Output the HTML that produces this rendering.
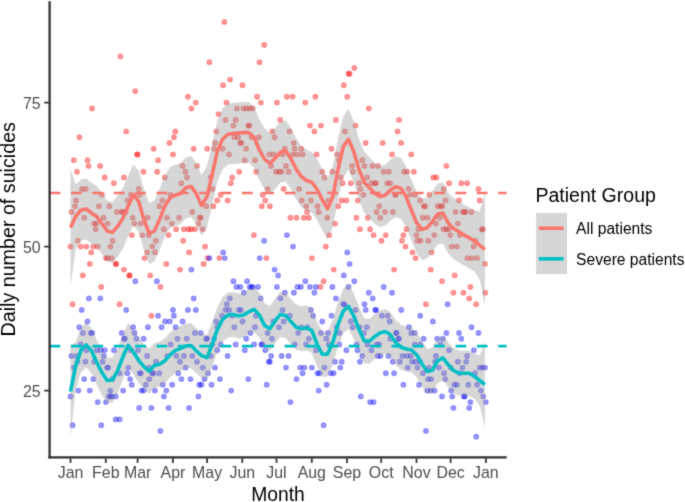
<!DOCTYPE html>
<html><head><meta charset="utf-8"><title>Daily number of suicides</title><style>html,body{margin:0;padding:0;background:#fff}
svg{display:block}
text{font-family:"Liberation Sans",sans-serif}
.tk{font-size:15.9px;fill:#4d4d4d}
.ti{font-size:19.3px;fill:#000}
.lg{font-size:15.6px;fill:#000}
.pr circle{fill:rgba(255,0,0,.35);stroke:rgba(255,0,0,.35);stroke-width:1.5}
.pb circle{fill:rgba(0,0,255,.35);stroke:rgba(0,0,255,.35);stroke-width:1.5}
</style></head><body><svg width="685" height="502" viewBox="0 0 685 502">
<defs><filter id="bl" color-interpolation-filters="sRGB" x="0" y="0" width="685" height="502" filterUnits="userSpaceOnUse"><feConvolveMatrix order="3" kernelMatrix="2 9 2 9 56 9 2 9 2" edgeMode="duplicate" preserveAlpha="true"/></filter></defs>
<g filter="url(#bl)">
<rect width="685" height="502" fill="#fff"/>
<g class="pr"><circle cx="120.4" cy="56.5" r="2.2"/><circle cx="135.3" cy="91.1" r="2.2"/><circle cx="92.1" cy="108.4" r="2.2"/><circle cx="126.2" cy="131.4" r="2.2"/><circle cx="79.4" cy="137.2" r="2.2"/><circle cx="175.3" cy="131.4" r="2.2"/><circle cx="174.0" cy="137.2" r="2.2"/><circle cx="169.5" cy="142.9" r="2.2"/><circle cx="153.7" cy="148.7" r="2.2"/><circle cx="137.1" cy="154.4" r="2.2"/><circle cx="137.6" cy="154.4" r="2.2"/><circle cx="173.0" cy="154.4" r="2.2"/><circle cx="73.8" cy="160.2" r="2.2"/><circle cx="87.5" cy="160.2" r="2.2"/><circle cx="158.1" cy="160.2" r="2.2"/><circle cx="88.6" cy="166.0" r="2.2"/><circle cx="100.1" cy="166.0" r="2.2"/><circle cx="77.0" cy="171.7" r="2.2"/><circle cx="143.4" cy="171.7" r="2.2"/><circle cx="157.2" cy="171.7" r="2.2"/><circle cx="104.7" cy="177.5" r="2.2"/><circle cx="123.9" cy="177.5" r="2.2"/><circle cx="164.8" cy="177.5" r="2.2"/><circle cx="113.8" cy="183.2" r="2.2"/><circle cx="81.9" cy="189.0" r="2.2"/><circle cx="85.8" cy="189.0" r="2.2"/><circle cx="138.8" cy="189.0" r="2.2"/><circle cx="102.0" cy="194.8" r="2.2"/><circle cx="130.9" cy="194.8" r="2.2"/><circle cx="139.7" cy="194.8" r="2.2"/><circle cx="170.4" cy="194.8" r="2.2"/><circle cx="76.1" cy="200.5" r="2.2"/><circle cx="127.4" cy="200.5" r="2.2"/><circle cx="162.5" cy="200.5" r="2.2"/><circle cx="74.9" cy="206.3" r="2.2"/><circle cx="98.9" cy="206.3" r="2.2"/><circle cx="109.4" cy="206.3" r="2.2"/><circle cx="159.5" cy="206.3" r="2.2"/><circle cx="71.6" cy="212.0" r="2.2"/><circle cx="116.9" cy="212.0" r="2.2"/><circle cx="121.7" cy="212.0" r="2.2"/><circle cx="122.7" cy="212.0" r="2.2"/><circle cx="125.7" cy="212.0" r="2.2"/><circle cx="84.2" cy="217.8" r="2.2"/><circle cx="103.4" cy="217.8" r="2.2"/><circle cx="132.7" cy="217.8" r="2.2"/><circle cx="147.6" cy="217.8" r="2.2"/><circle cx="166.9" cy="217.8" r="2.2"/><circle cx="179.1" cy="217.8" r="2.2"/><circle cx="94.2" cy="223.6" r="2.2"/><circle cx="96.3" cy="223.6" r="2.2"/><circle cx="107.6" cy="223.6" r="2.2"/><circle cx="134.5" cy="223.6" r="2.2"/><circle cx="140.9" cy="223.6" r="2.2"/><circle cx="171.8" cy="223.6" r="2.2"/><circle cx="95.6" cy="229.3" r="2.2"/><circle cx="163.9" cy="229.3" r="2.2"/><circle cx="176.1" cy="229.3" r="2.2"/><circle cx="131.8" cy="235.1" r="2.2"/><circle cx="142.3" cy="235.1" r="2.2"/><circle cx="148.8" cy="235.1" r="2.2"/><circle cx="168.6" cy="235.1" r="2.2"/><circle cx="77.9" cy="240.8" r="2.2"/><circle cx="112.6" cy="240.8" r="2.2"/><circle cx="155.8" cy="240.8" r="2.2"/><circle cx="70.5" cy="246.6" r="2.2"/><circle cx="80.7" cy="246.6" r="2.2"/><circle cx="86.3" cy="246.6" r="2.2"/><circle cx="93.3" cy="246.6" r="2.2"/><circle cx="97.7" cy="246.6" r="2.2"/><circle cx="110.5" cy="246.6" r="2.2"/><circle cx="152.3" cy="246.6" r="2.2"/><circle cx="91.2" cy="252.4" r="2.2"/><circle cx="147.1" cy="252.4" r="2.2"/><circle cx="155.1" cy="252.4" r="2.2"/><circle cx="105.9" cy="258.1" r="2.2"/><circle cx="107.6" cy="258.1" r="2.2"/><circle cx="111.7" cy="258.1" r="2.2"/><circle cx="144.6" cy="258.1" r="2.2"/><circle cx="89.8" cy="263.9" r="2.2"/><circle cx="115.7" cy="263.9" r="2.2"/><circle cx="116.2" cy="263.9" r="2.2"/><circle cx="166.3" cy="263.9" r="2.2"/><circle cx="123.9" cy="269.6" r="2.2"/><circle cx="82.8" cy="275.4" r="2.2"/><circle cx="129.2" cy="275.4" r="2.2"/><circle cx="129.7" cy="275.4" r="2.2"/><circle cx="150.2" cy="275.4" r="2.2"/><circle cx="101.2" cy="286.9" r="2.2"/><circle cx="160.4" cy="286.9" r="2.2"/><circle cx="72.6" cy="304.2" r="2.2"/><circle cx="119.6" cy="304.2" r="2.2"/><circle cx="151.4" cy="315.7" r="2.2"/><circle cx="224.3" cy="22.0" r="2.2"/><circle cx="264.3" cy="45.0" r="2.2"/><circle cx="209.4" cy="62.3" r="2.2"/><circle cx="259.5" cy="62.3" r="2.2"/><circle cx="230.1" cy="79.6" r="2.2"/><circle cx="223.1" cy="85.3" r="2.2"/><circle cx="242.5" cy="85.3" r="2.2"/><circle cx="187.9" cy="96.8" r="2.2"/><circle cx="257.1" cy="96.8" r="2.2"/><circle cx="286.9" cy="96.8" r="2.2"/><circle cx="292.6" cy="96.8" r="2.2"/><circle cx="195.8" cy="102.6" r="2.2"/><circle cx="226.4" cy="102.6" r="2.2"/><circle cx="260.9" cy="102.6" r="2.2"/><circle cx="276.9" cy="102.6" r="2.2"/><circle cx="191.4" cy="108.4" r="2.2"/><circle cx="236.9" cy="108.4" r="2.2"/><circle cx="243.4" cy="108.4" r="2.2"/><circle cx="246.6" cy="108.4" r="2.2"/><circle cx="249.7" cy="108.4" r="2.2"/><circle cx="252.7" cy="108.4" r="2.2"/><circle cx="218.5" cy="114.1" r="2.2"/><circle cx="225.5" cy="119.9" r="2.2"/><circle cx="235.7" cy="119.9" r="2.2"/><circle cx="280.2" cy="119.9" r="2.2"/><circle cx="233.4" cy="125.6" r="2.2"/><circle cx="248.3" cy="125.6" r="2.2"/><circle cx="249.4" cy="125.6" r="2.2"/><circle cx="216.3" cy="131.4" r="2.2"/><circle cx="272.3" cy="131.4" r="2.2"/><circle cx="289.5" cy="131.4" r="2.2"/><circle cx="234.3" cy="137.2" r="2.2"/><circle cx="238.2" cy="137.2" r="2.2"/><circle cx="251.5" cy="137.2" r="2.2"/><circle cx="258.8" cy="137.2" r="2.2"/><circle cx="274.6" cy="137.2" r="2.2"/><circle cx="215.0" cy="142.9" r="2.2"/><circle cx="240.3" cy="142.9" r="2.2"/><circle cx="241.3" cy="142.9" r="2.2"/><circle cx="293.9" cy="142.9" r="2.2"/><circle cx="193.7" cy="148.7" r="2.2"/><circle cx="207.2" cy="148.7" r="2.2"/><circle cx="214.2" cy="148.7" r="2.2"/><circle cx="222.6" cy="148.7" r="2.2"/><circle cx="246.2" cy="148.7" r="2.2"/><circle cx="284.8" cy="148.7" r="2.2"/><circle cx="294.7" cy="148.7" r="2.2"/><circle cx="229.1" cy="154.4" r="2.2"/><circle cx="269.3" cy="154.4" r="2.2"/><circle cx="273.7" cy="154.4" r="2.2"/><circle cx="282.5" cy="154.4" r="2.2"/><circle cx="244.8" cy="160.2" r="2.2"/><circle cx="255.0" cy="160.2" r="2.2"/><circle cx="182.6" cy="166.0" r="2.2"/><circle cx="197.0" cy="166.0" r="2.2"/><circle cx="271.1" cy="166.0" r="2.2"/><circle cx="286.0" cy="166.0" r="2.2"/><circle cx="185.3" cy="171.7" r="2.2"/><circle cx="239.2" cy="171.7" r="2.2"/><circle cx="256.2" cy="171.7" r="2.2"/><circle cx="276.0" cy="171.7" r="2.2"/><circle cx="279.0" cy="171.7" r="2.2"/><circle cx="281.6" cy="171.7" r="2.2"/><circle cx="288.6" cy="171.7" r="2.2"/><circle cx="187.0" cy="177.5" r="2.2"/><circle cx="210.7" cy="177.5" r="2.2"/><circle cx="232.2" cy="177.5" r="2.2"/><circle cx="181.4" cy="183.2" r="2.2"/><circle cx="230.8" cy="183.2" r="2.2"/><circle cx="212.4" cy="189.0" r="2.2"/><circle cx="267.6" cy="189.0" r="2.2"/><circle cx="283.7" cy="189.0" r="2.2"/><circle cx="299.1" cy="189.0" r="2.2"/><circle cx="220.6" cy="194.8" r="2.2"/><circle cx="262.7" cy="194.8" r="2.2"/><circle cx="217.3" cy="200.5" r="2.2"/><circle cx="227.6" cy="200.5" r="2.2"/><circle cx="265.3" cy="200.5" r="2.2"/><circle cx="206.3" cy="206.3" r="2.2"/><circle cx="213.3" cy="206.3" r="2.2"/><circle cx="261.8" cy="206.3" r="2.2"/><circle cx="269.9" cy="206.3" r="2.2"/><circle cx="192.3" cy="212.0" r="2.2"/><circle cx="199.6" cy="217.8" r="2.2"/><circle cx="200.7" cy="217.8" r="2.2"/><circle cx="290.4" cy="217.8" r="2.2"/><circle cx="296.5" cy="217.8" r="2.2"/><circle cx="198.4" cy="223.6" r="2.2"/><circle cx="183.9" cy="229.3" r="2.2"/><circle cx="188.4" cy="229.3" r="2.2"/><circle cx="190.9" cy="229.3" r="2.2"/><circle cx="194.9" cy="229.3" r="2.2"/><circle cx="202.8" cy="229.3" r="2.2"/><circle cx="253.9" cy="235.1" r="2.2"/><circle cx="183.2" cy="240.8" r="2.2"/><circle cx="205.1" cy="246.6" r="2.2"/><circle cx="189.1" cy="252.4" r="2.2"/><circle cx="207.7" cy="258.1" r="2.2"/><circle cx="219.4" cy="258.1" r="2.2"/><circle cx="266.4" cy="258.1" r="2.2"/><circle cx="203.6" cy="263.9" r="2.2"/><circle cx="180.0" cy="269.6" r="2.2"/><circle cx="354.3" cy="68.0" r="2.2"/><circle cx="348.5" cy="73.8" r="2.2"/><circle cx="349.6" cy="73.8" r="2.2"/><circle cx="343.8" cy="85.3" r="2.2"/><circle cx="315.4" cy="96.8" r="2.2"/><circle cx="347.3" cy="96.8" r="2.2"/><circle cx="305.3" cy="102.6" r="2.2"/><circle cx="368.8" cy="108.4" r="2.2"/><circle cx="335.9" cy="119.9" r="2.2"/><circle cx="399.0" cy="119.9" r="2.2"/><circle cx="310.0" cy="125.6" r="2.2"/><circle cx="321.0" cy="125.6" r="2.2"/><circle cx="355.5" cy="125.6" r="2.2"/><circle cx="314.4" cy="131.4" r="2.2"/><circle cx="345.0" cy="131.4" r="2.2"/><circle cx="397.6" cy="131.4" r="2.2"/><circle cx="365.7" cy="142.9" r="2.2"/><circle cx="382.7" cy="142.9" r="2.2"/><circle cx="401.1" cy="142.9" r="2.2"/><circle cx="331.5" cy="148.7" r="2.2"/><circle cx="301.4" cy="148.7" r="2.2"/><circle cx="302.6" cy="154.4" r="2.2"/><circle cx="316.6" cy="154.4" r="2.2"/><circle cx="337.1" cy="154.4" r="2.2"/><circle cx="392.0" cy="154.4" r="2.2"/><circle cx="411.2" cy="154.4" r="2.2"/><circle cx="362.2" cy="160.2" r="2.2"/><circle cx="338.9" cy="160.2" r="2.2"/><circle cx="352.0" cy="166.0" r="2.2"/><circle cx="364.5" cy="166.0" r="2.2"/><circle cx="372.4" cy="166.0" r="2.2"/><circle cx="378.0" cy="166.0" r="2.2"/><circle cx="322.2" cy="171.7" r="2.2"/><circle cx="332.4" cy="171.7" r="2.2"/><circle cx="352.9" cy="171.7" r="2.2"/><circle cx="383.7" cy="171.7" r="2.2"/><circle cx="388.8" cy="171.7" r="2.2"/><circle cx="404.2" cy="171.7" r="2.2"/><circle cx="407.2" cy="171.7" r="2.2"/><circle cx="413.9" cy="171.7" r="2.2"/><circle cx="324.5" cy="177.5" r="2.2"/><circle cx="340.8" cy="177.5" r="2.2"/><circle cx="367.1" cy="177.5" r="2.2"/><circle cx="342.6" cy="183.2" r="2.2"/><circle cx="350.8" cy="183.2" r="2.2"/><circle cx="359.0" cy="183.2" r="2.2"/><circle cx="371.5" cy="183.2" r="2.2"/><circle cx="374.8" cy="183.2" r="2.2"/><circle cx="375.9" cy="183.2" r="2.2"/><circle cx="387.1" cy="183.2" r="2.2"/><circle cx="390.2" cy="183.2" r="2.2"/><circle cx="360.4" cy="189.0" r="2.2"/><circle cx="408.6" cy="189.0" r="2.2"/><circle cx="363.4" cy="194.8" r="2.2"/><circle cx="395.5" cy="194.8" r="2.2"/><circle cx="410.0" cy="194.8" r="2.2"/><circle cx="414.7" cy="194.8" r="2.2"/><circle cx="301.8" cy="200.5" r="2.2"/><circle cx="310.9" cy="200.5" r="2.2"/><circle cx="328.4" cy="200.5" r="2.2"/><circle cx="341.5" cy="200.5" r="2.2"/><circle cx="346.4" cy="200.5" r="2.2"/><circle cx="357.8" cy="200.5" r="2.2"/><circle cx="420.2" cy="200.5" r="2.2"/><circle cx="306.1" cy="206.3" r="2.2"/><circle cx="317.5" cy="206.3" r="2.2"/><circle cx="338.2" cy="206.3" r="2.2"/><circle cx="379.2" cy="206.3" r="2.2"/><circle cx="307.0" cy="212.0" r="2.2"/><circle cx="318.7" cy="212.0" r="2.2"/><circle cx="376.6" cy="212.0" r="2.2"/><circle cx="385.0" cy="212.0" r="2.2"/><circle cx="392.8" cy="212.0" r="2.2"/><circle cx="303.9" cy="217.8" r="2.2"/><circle cx="308.8" cy="217.8" r="2.2"/><circle cx="327.2" cy="217.8" r="2.2"/><circle cx="356.4" cy="217.8" r="2.2"/><circle cx="367.8" cy="217.8" r="2.2"/><circle cx="380.2" cy="217.8" r="2.2"/><circle cx="335.0" cy="223.6" r="2.2"/><circle cx="359.9" cy="229.3" r="2.2"/><circle cx="370.1" cy="229.3" r="2.2"/><circle cx="406.5" cy="229.3" r="2.2"/><circle cx="329.3" cy="235.1" r="2.2"/><circle cx="373.6" cy="235.1" r="2.2"/><circle cx="385.8" cy="235.1" r="2.2"/><circle cx="403.4" cy="235.1" r="2.2"/><circle cx="416.5" cy="235.1" r="2.2"/><circle cx="381.5" cy="240.8" r="2.2"/><circle cx="402.0" cy="240.8" r="2.2"/><circle cx="417.4" cy="240.8" r="2.2"/><circle cx="325.8" cy="246.6" r="2.2"/><circle cx="405.5" cy="246.6" r="2.2"/><circle cx="412.5" cy="252.4" r="2.2"/><circle cx="311.9" cy="258.1" r="2.2"/><circle cx="415.6" cy="258.1" r="2.2"/><circle cx="333.8" cy="269.6" r="2.2"/><circle cx="394.1" cy="269.6" r="2.2"/><circle cx="323.6" cy="281.2" r="2.2"/><circle cx="320.5" cy="286.9" r="2.2"/><circle cx="446.4" cy="166.0" r="2.2"/><circle cx="433.3" cy="177.5" r="2.2"/><circle cx="436.4" cy="177.5" r="2.2"/><circle cx="449.1" cy="183.2" r="2.2"/><circle cx="461.3" cy="183.2" r="2.2"/><circle cx="467.1" cy="183.2" r="2.2"/><circle cx="443.8" cy="189.0" r="2.2"/><circle cx="478.5" cy="189.0" r="2.2"/><circle cx="429.4" cy="194.8" r="2.2"/><circle cx="445.5" cy="200.5" r="2.2"/><circle cx="459.0" cy="200.5" r="2.2"/><circle cx="479.7" cy="200.5" r="2.2"/><circle cx="424.0" cy="206.3" r="2.2"/><circle cx="425.1" cy="206.3" r="2.2"/><circle cx="437.7" cy="206.3" r="2.2"/><circle cx="440.6" cy="206.3" r="2.2"/><circle cx="455.5" cy="212.0" r="2.2"/><circle cx="462.7" cy="212.0" r="2.2"/><circle cx="465.7" cy="212.0" r="2.2"/><circle cx="471.5" cy="212.0" r="2.2"/><circle cx="422.8" cy="217.8" r="2.2"/><circle cx="427.5" cy="217.8" r="2.2"/><circle cx="439.9" cy="217.8" r="2.2"/><circle cx="435.9" cy="223.6" r="2.2"/><circle cx="457.8" cy="223.6" r="2.2"/><circle cx="418.4" cy="229.3" r="2.2"/><circle cx="443.4" cy="229.3" r="2.2"/><circle cx="448.7" cy="229.3" r="2.2"/><circle cx="481.8" cy="229.3" r="2.2"/><circle cx="482.9" cy="229.3" r="2.2"/><circle cx="434.2" cy="235.1" r="2.2"/><circle cx="450.3" cy="235.1" r="2.2"/><circle cx="459.9" cy="235.1" r="2.2"/><circle cx="420.7" cy="240.8" r="2.2"/><circle cx="428.4" cy="240.8" r="2.2"/><circle cx="475.3" cy="240.8" r="2.2"/><circle cx="451.7" cy="246.6" r="2.2"/><circle cx="456.9" cy="246.6" r="2.2"/><circle cx="473.6" cy="246.6" r="2.2"/><circle cx="431.5" cy="252.4" r="2.2"/><circle cx="467.4" cy="258.1" r="2.2"/><circle cx="471.8" cy="258.1" r="2.2"/><circle cx="477.1" cy="258.1" r="2.2"/><circle cx="485.0" cy="263.9" r="2.2"/><circle cx="430.7" cy="269.6" r="2.2"/><circle cx="454.7" cy="275.4" r="2.2"/><circle cx="442.0" cy="281.2" r="2.2"/><circle cx="470.4" cy="286.9" r="2.2"/><circle cx="453.4" cy="292.7" r="2.2"/><circle cx="463.4" cy="292.7" r="2.2"/><circle cx="485.3" cy="292.7" r="2.2"/><circle cx="469.2" cy="298.4" r="2.2"/><circle cx="425.9" cy="304.2" r="2.2"/><circle cx="476.2" cy="304.2" r="2.2"/><circle cx="292.9" cy="154.4" r="2.2"/><circle cx="297.4" cy="154.4" r="2.2"/><circle cx="442.3" cy="206.3" r="2.2"/><circle cx="464.5" cy="212.0" r="2.2"/><circle cx="446.4" cy="229.3" r="2.2"/><circle cx="395.5" cy="194.8" r="2.2"/></g>
<g class="pb"><circle cx="135.3" cy="281.2" r="2.2"/><circle cx="156.9" cy="281.2" r="2.2"/><circle cx="88.9" cy="298.4" r="2.2"/><circle cx="100.3" cy="298.4" r="2.2"/><circle cx="81.7" cy="310.0" r="2.2"/><circle cx="126.2" cy="310.0" r="2.2"/><circle cx="173.0" cy="310.0" r="2.2"/><circle cx="158.1" cy="315.7" r="2.2"/><circle cx="173.9" cy="315.7" r="2.2"/><circle cx="87.5" cy="321.5" r="2.2"/><circle cx="165.1" cy="321.5" r="2.2"/><circle cx="169.8" cy="321.5" r="2.2"/><circle cx="79.3" cy="327.2" r="2.2"/><circle cx="133.1" cy="327.2" r="2.2"/><circle cx="147.9" cy="327.2" r="2.2"/><circle cx="161.6" cy="327.2" r="2.2"/><circle cx="175.6" cy="327.2" r="2.2"/><circle cx="82.8" cy="333.0" r="2.2"/><circle cx="90.8" cy="333.0" r="2.2"/><circle cx="92.2" cy="333.0" r="2.2"/><circle cx="121.7" cy="333.0" r="2.2"/><circle cx="134.5" cy="333.0" r="2.2"/><circle cx="123.9" cy="338.8" r="2.2"/><circle cx="125.0" cy="338.8" r="2.2"/><circle cx="136.6" cy="338.8" r="2.2"/><circle cx="143.6" cy="338.8" r="2.2"/><circle cx="177.4" cy="338.8" r="2.2"/><circle cx="80.7" cy="344.5" r="2.2"/><circle cx="170.7" cy="344.5" r="2.2"/><circle cx="86.3" cy="350.3" r="2.2"/><circle cx="96.8" cy="350.3" r="2.2"/><circle cx="100.6" cy="350.3" r="2.2"/><circle cx="104.7" cy="350.3" r="2.2"/><circle cx="114.0" cy="350.3" r="2.2"/><circle cx="130.9" cy="350.3" r="2.2"/><circle cx="138.0" cy="350.3" r="2.2"/><circle cx="71.4" cy="356.0" r="2.2"/><circle cx="76.6" cy="356.0" r="2.2"/><circle cx="103.8" cy="356.0" r="2.2"/><circle cx="147.1" cy="356.0" r="2.2"/><circle cx="167.2" cy="356.0" r="2.2"/><circle cx="176.5" cy="356.0" r="2.2"/><circle cx="85.4" cy="361.8" r="2.2"/><circle cx="94.2" cy="361.8" r="2.2"/><circle cx="102.6" cy="361.8" r="2.2"/><circle cx="156.0" cy="361.8" r="2.2"/><circle cx="77.5" cy="361.8" r="2.2"/><circle cx="73.7" cy="367.6" r="2.2"/><circle cx="107.1" cy="367.6" r="2.2"/><circle cx="108.2" cy="367.6" r="2.2"/><circle cx="128.3" cy="367.6" r="2.2"/><circle cx="149.3" cy="367.6" r="2.2"/><circle cx="119.6" cy="373.3" r="2.2"/><circle cx="127.4" cy="373.3" r="2.2"/><circle cx="139.7" cy="373.3" r="2.2"/><circle cx="140.8" cy="373.3" r="2.2"/><circle cx="152.3" cy="373.3" r="2.2"/><circle cx="153.4" cy="373.3" r="2.2"/><circle cx="159.3" cy="373.3" r="2.2"/><circle cx="178.2" cy="373.3" r="2.2"/><circle cx="84.2" cy="379.1" r="2.2"/><circle cx="93.3" cy="379.1" r="2.2"/><circle cx="130.1" cy="379.1" r="2.2"/><circle cx="149.3" cy="379.1" r="2.2"/><circle cx="131.8" cy="384.8" r="2.2"/><circle cx="145.8" cy="384.8" r="2.2"/><circle cx="162.8" cy="384.8" r="2.2"/><circle cx="172.1" cy="384.8" r="2.2"/><circle cx="78.4" cy="390.6" r="2.2"/><circle cx="89.8" cy="390.6" r="2.2"/><circle cx="110.3" cy="390.6" r="2.2"/><circle cx="123.1" cy="390.6" r="2.2"/><circle cx="141.5" cy="390.6" r="2.2"/><circle cx="143.7" cy="390.6" r="2.2"/><circle cx="154.9" cy="390.6" r="2.2"/><circle cx="166.3" cy="390.6" r="2.2"/><circle cx="70.5" cy="396.4" r="2.2"/><circle cx="108.7" cy="396.4" r="2.2"/><circle cx="111.7" cy="396.4" r="2.2"/><circle cx="115.7" cy="396.4" r="2.2"/><circle cx="163.9" cy="396.4" r="2.2"/><circle cx="97.7" cy="402.1" r="2.2"/><circle cx="105.9" cy="402.1" r="2.2"/><circle cx="139.2" cy="407.9" r="2.2"/><circle cx="151.4" cy="407.9" r="2.2"/><circle cx="168.6" cy="407.9" r="2.2"/><circle cx="115.7" cy="419.4" r="2.2"/><circle cx="119.6" cy="419.4" r="2.2"/><circle cx="72.6" cy="425.2" r="2.2"/><circle cx="101.2" cy="425.2" r="2.2"/><circle cx="160.4" cy="430.9" r="2.2"/><circle cx="286.9" cy="235.1" r="2.2"/><circle cx="264.1" cy="240.8" r="2.2"/><circle cx="293.0" cy="246.6" r="2.2"/><circle cx="223.1" cy="252.4" r="2.2"/><circle cx="209.4" cy="258.1" r="2.2"/><circle cx="224.7" cy="258.1" r="2.2"/><circle cx="259.7" cy="258.1" r="2.2"/><circle cx="191.4" cy="269.6" r="2.2"/><circle cx="274.6" cy="269.6" r="2.2"/><circle cx="278.1" cy="275.4" r="2.2"/><circle cx="233.4" cy="281.2" r="2.2"/><circle cx="247.1" cy="281.2" r="2.2"/><circle cx="236.4" cy="286.9" r="2.2"/><circle cx="240.4" cy="286.9" r="2.2"/><circle cx="249.7" cy="286.9" r="2.2"/><circle cx="251.6" cy="286.9" r="2.2"/><circle cx="252.7" cy="286.9" r="2.2"/><circle cx="258.0" cy="286.9" r="2.2"/><circle cx="276.9" cy="286.9" r="2.2"/><circle cx="297.4" cy="286.9" r="2.2"/><circle cx="243.9" cy="292.7" r="2.2"/><circle cx="284.8" cy="292.7" r="2.2"/><circle cx="293.9" cy="292.7" r="2.2"/><circle cx="193.7" cy="298.4" r="2.2"/><circle cx="229.9" cy="298.4" r="2.2"/><circle cx="260.6" cy="298.4" r="2.2"/><circle cx="280.4" cy="298.4" r="2.2"/><circle cx="226.8" cy="304.2" r="2.2"/><circle cx="187.9" cy="310.0" r="2.2"/><circle cx="195.8" cy="310.0" r="2.2"/><circle cx="225.5" cy="310.0" r="2.2"/><circle cx="229.4" cy="310.0" r="2.2"/><circle cx="238.7" cy="310.0" r="2.2"/><circle cx="241.0" cy="310.0" r="2.2"/><circle cx="282.5" cy="310.0" r="2.2"/><circle cx="222.0" cy="315.7" r="2.2"/><circle cx="232.2" cy="315.7" r="2.2"/><circle cx="255.9" cy="315.7" r="2.2"/><circle cx="289.8" cy="315.7" r="2.2"/><circle cx="182.6" cy="321.5" r="2.2"/><circle cx="216.3" cy="321.5" r="2.2"/><circle cx="242.5" cy="321.5" r="2.2"/><circle cx="273.4" cy="321.5" r="2.2"/><circle cx="283.7" cy="321.5" r="2.2"/><circle cx="234.3" cy="327.2" r="2.2"/><circle cx="255.0" cy="327.2" r="2.2"/><circle cx="279.0" cy="327.2" r="2.2"/><circle cx="194.9" cy="333.0" r="2.2"/><circle cx="200.7" cy="333.0" r="2.2"/><circle cx="250.4" cy="333.0" r="2.2"/><circle cx="267.6" cy="333.0" r="2.2"/><circle cx="298.2" cy="333.0" r="2.2"/><circle cx="186.7" cy="338.8" r="2.2"/><circle cx="206.1" cy="338.8" r="2.2"/><circle cx="207.2" cy="338.8" r="2.2"/><circle cx="246.2" cy="338.8" r="2.2"/><circle cx="272.0" cy="338.8" r="2.2"/><circle cx="214.2" cy="338.8" r="2.2"/><circle cx="220.6" cy="344.5" r="2.2"/><circle cx="235.7" cy="344.5" r="2.2"/><circle cx="254.1" cy="344.5" r="2.2"/><circle cx="261.3" cy="344.5" r="2.2"/><circle cx="262.3" cy="344.5" r="2.2"/><circle cx="294.7" cy="344.5" r="2.2"/><circle cx="217.3" cy="350.3" r="2.2"/><circle cx="244.8" cy="350.3" r="2.2"/><circle cx="265.3" cy="350.3" r="2.2"/><circle cx="183.9" cy="356.0" r="2.2"/><circle cx="192.3" cy="356.0" r="2.2"/><circle cx="210.7" cy="356.0" r="2.2"/><circle cx="227.6" cy="356.0" r="2.2"/><circle cx="271.1" cy="356.0" r="2.2"/><circle cx="281.6" cy="356.0" r="2.2"/><circle cx="288.6" cy="356.0" r="2.2"/><circle cx="197.0" cy="361.8" r="2.2"/><circle cx="268.8" cy="361.8" r="2.2"/><circle cx="269.9" cy="361.8" r="2.2"/><circle cx="180.0" cy="361.8" r="2.2"/><circle cx="185.6" cy="367.6" r="2.2"/><circle cx="202.8" cy="367.6" r="2.2"/><circle cx="215.0" cy="367.6" r="2.2"/><circle cx="286.0" cy="367.6" r="2.2"/><circle cx="300.2" cy="367.6" r="2.2"/><circle cx="208.0" cy="373.3" r="2.2"/><circle cx="181.4" cy="379.1" r="2.2"/><circle cx="190.5" cy="379.1" r="2.2"/><circle cx="204.5" cy="379.1" r="2.2"/><circle cx="219.9" cy="379.1" r="2.2"/><circle cx="248.3" cy="379.1" r="2.2"/><circle cx="296.5" cy="379.1" r="2.2"/><circle cx="199.3" cy="384.8" r="2.2"/><circle cx="201.4" cy="384.8" r="2.2"/><circle cx="211.5" cy="384.8" r="2.2"/><circle cx="266.7" cy="384.8" r="2.2"/><circle cx="231.2" cy="390.6" r="2.2"/><circle cx="198.4" cy="396.4" r="2.2"/><circle cx="290.4" cy="402.1" r="2.2"/><circle cx="189.1" cy="407.9" r="2.2"/><circle cx="347.3" cy="252.4" r="2.2"/><circle cx="349.6" cy="263.9" r="2.2"/><circle cx="343.8" cy="275.4" r="2.2"/><circle cx="305.3" cy="281.2" r="2.2"/><circle cx="354.3" cy="281.2" r="2.2"/><circle cx="300.9" cy="286.9" r="2.2"/><circle cx="310.0" cy="286.9" r="2.2"/><circle cx="315.8" cy="286.9" r="2.2"/><circle cx="332.4" cy="286.9" r="2.2"/><circle cx="348.5" cy="286.9" r="2.2"/><circle cx="383.7" cy="286.9" r="2.2"/><circle cx="314.4" cy="292.7" r="2.2"/><circle cx="368.8" cy="292.7" r="2.2"/><circle cx="392.0" cy="292.7" r="2.2"/><circle cx="335.9" cy="298.4" r="2.2"/><circle cx="372.7" cy="298.4" r="2.2"/><circle cx="343.3" cy="304.2" r="2.2"/><circle cx="344.3" cy="304.2" r="2.2"/><circle cx="364.5" cy="304.2" r="2.2"/><circle cx="310.9" cy="310.0" r="2.2"/><circle cx="355.5" cy="310.0" r="2.2"/><circle cx="365.7" cy="310.0" r="2.2"/><circle cx="375.2" cy="310.0" r="2.2"/><circle cx="376.2" cy="310.0" r="2.2"/><circle cx="401.3" cy="310.0" r="2.2"/><circle cx="313.1" cy="315.7" r="2.2"/><circle cx="331.5" cy="315.7" r="2.2"/><circle cx="381.8" cy="315.7" r="2.2"/><circle cx="387.6" cy="315.7" r="2.2"/><circle cx="420.2" cy="315.7" r="2.2"/><circle cx="322.2" cy="321.5" r="2.2"/><circle cx="350.8" cy="321.5" r="2.2"/><circle cx="389.7" cy="321.5" r="2.2"/><circle cx="301.4" cy="327.2" r="2.2"/><circle cx="307.4" cy="327.2" r="2.2"/><circle cx="336.8" cy="327.2" r="2.2"/><circle cx="352.6" cy="327.2" r="2.2"/><circle cx="359.6" cy="327.2" r="2.2"/><circle cx="366.9" cy="327.2" r="2.2"/><circle cx="409.0" cy="327.2" r="2.2"/><circle cx="321.0" cy="333.0" r="2.2"/><circle cx="328.0" cy="333.0" r="2.2"/><circle cx="339.4" cy="333.0" r="2.2"/><circle cx="363.9" cy="333.0" r="2.2"/><circle cx="396.0" cy="333.0" r="2.2"/><circle cx="411.2" cy="333.0" r="2.2"/><circle cx="414.7" cy="333.0" r="2.2"/><circle cx="308.8" cy="338.8" r="2.2"/><circle cx="326.3" cy="338.8" r="2.2"/><circle cx="390.2" cy="338.8" r="2.2"/><circle cx="398.6" cy="338.8" r="2.2"/><circle cx="306.1" cy="344.5" r="2.2"/><circle cx="328.9" cy="344.5" r="2.2"/><circle cx="339.4" cy="344.5" r="2.2"/><circle cx="356.6" cy="344.5" r="2.2"/><circle cx="367.4" cy="344.5" r="2.2"/><circle cx="376.6" cy="344.5" r="2.2"/><circle cx="379.2" cy="344.5" r="2.2"/><circle cx="414.7" cy="344.5" r="2.2"/><circle cx="420.2" cy="344.5" r="2.2"/><circle cx="316.1" cy="350.3" r="2.2"/><circle cx="346.4" cy="350.3" r="2.2"/><circle cx="357.5" cy="350.3" r="2.2"/><circle cx="371.5" cy="350.3" r="2.2"/><circle cx="362.2" cy="356.0" r="2.2"/><circle cx="377.6" cy="356.0" r="2.2"/><circle cx="380.4" cy="356.0" r="2.2"/><circle cx="388.5" cy="356.0" r="2.2"/><circle cx="402.5" cy="356.0" r="2.2"/><circle cx="406.9" cy="356.0" r="2.2"/><circle cx="410.7" cy="356.0" r="2.2"/><circle cx="335.0" cy="361.8" r="2.2"/><circle cx="341.7" cy="361.8" r="2.2"/><circle cx="359.9" cy="361.8" r="2.2"/><circle cx="392.8" cy="361.8" r="2.2"/><circle cx="399.9" cy="361.8" r="2.2"/><circle cx="412.1" cy="361.8" r="2.2"/><circle cx="415.6" cy="361.8" r="2.2"/><circle cx="420.2" cy="361.8" r="2.2"/><circle cx="304.4" cy="367.6" r="2.2"/><circle cx="311.9" cy="367.6" r="2.2"/><circle cx="324.5" cy="367.6" r="2.2"/><circle cx="340.3" cy="367.6" r="2.2"/><circle cx="407.7" cy="367.6" r="2.2"/><circle cx="417.4" cy="367.6" r="2.2"/><circle cx="302.6" cy="373.3" r="2.2"/><circle cx="317.5" cy="373.3" r="2.2"/><circle cx="319.6" cy="373.3" r="2.2"/><circle cx="330.7" cy="373.3" r="2.2"/><circle cx="333.6" cy="373.3" r="2.2"/><circle cx="385.8" cy="373.3" r="2.2"/><circle cx="394.1" cy="373.3" r="2.2"/><circle cx="326.6" cy="384.8" r="2.2"/><circle cx="403.4" cy="384.8" r="2.2"/><circle cx="419.1" cy="384.8" r="2.2"/><circle cx="318.7" cy="390.6" r="2.2"/><circle cx="360.8" cy="396.4" r="2.2"/><circle cx="370.1" cy="402.1" r="2.2"/><circle cx="373.6" cy="402.1" r="2.2"/><circle cx="323.6" cy="425.2" r="2.2"/><circle cx="447.6" cy="304.2" r="2.2"/><circle cx="432.9" cy="321.5" r="2.2"/><circle cx="471.5" cy="327.2" r="2.2"/><circle cx="446.4" cy="333.0" r="2.2"/><circle cx="459.0" cy="333.0" r="2.2"/><circle cx="478.5" cy="333.0" r="2.2"/><circle cx="423.6" cy="338.8" r="2.2"/><circle cx="437.3" cy="338.8" r="2.2"/><circle cx="442.9" cy="338.8" r="2.2"/><circle cx="461.3" cy="338.8" r="2.2"/><circle cx="440.6" cy="344.5" r="2.2"/><circle cx="449.1" cy="350.3" r="2.2"/><circle cx="473.9" cy="350.3" r="2.2"/><circle cx="435.9" cy="356.0" r="2.2"/><circle cx="467.1" cy="356.0" r="2.2"/><circle cx="435.0" cy="361.8" r="2.2"/><circle cx="457.8" cy="361.8" r="2.2"/><circle cx="466.2" cy="361.8" r="2.2"/><circle cx="428.9" cy="367.6" r="2.2"/><circle cx="438.9" cy="367.6" r="2.2"/><circle cx="450.8" cy="367.6" r="2.2"/><circle cx="462.5" cy="367.6" r="2.2"/><circle cx="479.7" cy="367.6" r="2.2"/><circle cx="482.3" cy="367.6" r="2.2"/><circle cx="485.0" cy="367.6" r="2.2"/><circle cx="422.8" cy="373.3" r="2.2"/><circle cx="444.1" cy="373.3" r="2.2"/><circle cx="459.9" cy="373.3" r="2.2"/><circle cx="475.0" cy="373.3" r="2.2"/><circle cx="428.0" cy="379.1" r="2.2"/><circle cx="431.2" cy="379.1" r="2.2"/><circle cx="445.2" cy="379.1" r="2.2"/><circle cx="454.3" cy="384.8" r="2.2"/><circle cx="456.9" cy="384.8" r="2.2"/><circle cx="468.3" cy="384.8" r="2.2"/><circle cx="477.1" cy="384.8" r="2.2"/><circle cx="427.2" cy="390.6" r="2.2"/><circle cx="430.7" cy="390.6" r="2.2"/><circle cx="434.5" cy="390.6" r="2.2"/><circle cx="451.2" cy="390.6" r="2.2"/><circle cx="480.9" cy="390.6" r="2.2"/><circle cx="442.0" cy="396.4" r="2.2"/><circle cx="452.2" cy="396.4" r="2.2"/><circle cx="463.8" cy="396.4" r="2.2"/><circle cx="464.8" cy="396.4" r="2.2"/><circle cx="483.2" cy="396.4" r="2.2"/><circle cx="470.4" cy="402.1" r="2.2"/><circle cx="485.8" cy="402.1" r="2.2"/><circle cx="453.4" cy="407.9" r="2.2"/><circle cx="469.2" cy="407.9" r="2.2"/><circle cx="425.9" cy="430.9" r="2.2"/><circle cx="476.2" cy="436.7" r="2.2"/><circle cx="396.6" cy="333.0" r="2.2"/><circle cx="398.8" cy="338.8" r="2.2"/><circle cx="217.3" cy="327.2" r="2.2"/><circle cx="212.3" cy="344.5" r="2.2"/><circle cx="112.2" cy="379.1" r="2.2"/><circle cx="110.6" cy="396.4" r="2.2"/></g>
<path d="M70.5,168.6 L75.7,184.4 L81.0,179.5 L86.2,178.5 L91.5,182.7 L96.7,186.1 L102.0,193.2 L107.2,200.5 L112.5,201.9 L117.7,195.7 L123.0,187.6 L128.2,175.3 L133.4,164.2 L138.7,171.1 L143.9,188.9 L149.2,203.0 L154.4,200.5 L159.7,188.6 L164.9,175.4 L170.2,167.1 L175.4,164.7 L180.7,163.0 L185.9,157.3 L191.1,155.9 L196.4,163.4 L201.6,174.9 L206.9,166.3 L212.1,144.3 L217.4,120.6 L222.6,108.6 L227.9,103.8 L233.1,103.0 L238.4,102.4 L243.6,101.9 L248.8,102.1 L254.1,106.8 L259.3,119.3 L264.6,128.6 L269.8,133.0 L275.1,127.9 L280.3,121.8 L285.6,120.3 L290.8,127.9 L296.1,138.5 L301.3,146.0 L306.6,150.0 L311.8,151.7 L317.0,158.7 L322.3,169.4 L327.5,178.3 L332.8,166.3 L338.0,139.0 L343.3,116.0 L348.5,108.8 L353.8,121.3 L359.0,139.0 L364.3,152.1 L369.5,157.3 L374.7,162.7 L380.0,166.1 L385.2,164.8 L390.5,159.5 L395.7,156.3 L401.0,157.9 L406.2,166.4 L411.5,180.1 L416.7,192.3 L422.0,198.9 L427.2,197.3 L432.4,191.0 L437.7,183.5 L442.9,182.5 L448.2,192.5 L453.4,198.0 L458.7,201.1 L463.9,204.6 L469.2,207.2 L474.4,210.5 L479.7,211.3 L484.9,192.3 L484.9,306.3 L479.7,279.3 L474.4,271.5 L469.2,268.2 L463.9,265.6 L458.7,262.1 L453.4,259.0 L448.2,253.5 L442.9,243.5 L437.7,244.5 L432.4,252.0 L427.2,258.3 L422.0,259.9 L416.7,253.3 L411.5,241.1 L406.2,227.4 L401.0,218.9 L395.7,217.3 L390.5,220.5 L385.2,225.8 L380.0,227.1 L374.7,223.7 L369.5,218.3 L364.3,213.1 L359.0,200.0 L353.8,182.3 L348.5,169.8 L343.3,177.0 L338.0,200.0 L332.8,227.3 L327.5,239.3 L322.3,230.4 L317.0,219.7 L311.8,212.7 L306.6,211.0 L301.3,207.0 L296.1,199.5 L290.8,188.9 L285.6,181.3 L280.3,182.8 L275.1,188.9 L269.8,194.0 L264.6,189.6 L259.3,180.3 L254.1,167.8 L248.8,163.1 L243.6,162.9 L238.4,163.4 L233.1,164.0 L227.9,164.8 L222.6,169.6 L217.4,181.6 L212.1,205.3 L206.9,227.3 L201.6,235.9 L196.4,224.4 L191.1,216.9 L185.9,218.3 L180.7,224.0 L175.4,225.7 L170.2,228.1 L164.9,236.4 L159.7,249.6 L154.4,261.5 L149.2,264.0 L143.9,249.9 L138.7,232.1 L133.4,225.2 L128.2,236.3 L123.0,248.6 L117.7,256.7 L112.5,262.9 L107.2,261.5 L102.0,254.2 L96.7,247.1 L91.5,243.7 L86.2,239.5 L81.0,240.5 L75.7,248.4 L70.5,286.6Z" fill="#999" fill-opacity="0.4"/>
<path d="M70.5,227.6 L75.7,216.4 L81.0,210.0 L86.2,209.0 L91.5,213.2 L96.7,216.6 L102.0,223.7 L107.2,231.0 L112.5,232.4 L117.7,226.2 L123.0,218.1 L128.2,205.8 L133.4,194.7 L138.7,201.6 L143.9,219.4 L149.2,233.5 L154.4,231.0 L159.7,219.1 L164.9,205.9 L170.2,197.6 L175.4,195.2 L180.7,193.5 L185.9,187.8 L191.1,186.4 L196.4,193.9 L201.6,205.4 L206.9,196.8 L212.1,174.8 L217.4,151.1 L222.6,139.1 L227.9,134.3 L233.1,133.5 L238.4,132.9 L243.6,132.4 L248.8,132.6 L254.1,137.3 L259.3,149.8 L264.6,159.1 L269.8,163.5 L275.1,158.4 L280.3,152.3 L285.6,150.8 L290.8,158.4 L296.1,169.0 L301.3,176.5 L306.6,180.5 L311.8,182.2 L317.0,189.2 L322.3,199.9 L327.5,208.8 L332.8,196.8 L338.0,169.5 L343.3,146.5 L348.5,139.3 L353.8,151.8 L359.0,169.5 L364.3,182.6 L369.5,187.8 L374.7,193.2 L380.0,196.6 L385.2,195.3 L390.5,190.0 L395.7,186.8 L401.0,188.4 L406.2,196.9 L411.5,210.6 L416.7,222.8 L422.0,229.4 L427.2,227.8 L432.4,221.5 L437.7,214.0 L442.9,213.0 L448.2,223.0 L453.4,228.5 L458.7,231.6 L463.9,235.1 L469.2,237.7 L474.4,241.0 L479.7,245.3 L484.9,249.3" fill="none" stroke="#F8766D" stroke-width="3.56" stroke-linejoin="round"/>
<path d="M70.5,345.5 L75.7,342.3 L81.0,327.6 L86.2,322.4 L91.5,328.3 L96.7,339.8 L102.0,350.1 L107.2,358.1 L112.5,357.4 L117.7,348.0 L123.0,334.0 L128.2,322.8 L133.4,329.5 L138.7,338.0 L143.9,344.2 L149.2,348.7 L154.4,342.9 L159.7,341.7 L164.9,338.2 L170.2,332.3 L175.4,327.9 L180.7,325.9 L185.9,323.4 L191.1,323.0 L196.4,328.5 L201.6,333.1 L206.9,335.1 L212.1,322.1 L217.4,306.9 L222.6,296.9 L227.9,292.5 L233.1,291.9 L238.4,293.5 L243.6,292.5 L248.8,289.3 L254.1,286.9 L259.3,292.4 L264.6,303.0 L269.8,306.2 L275.1,298.4 L280.3,291.9 L285.6,293.0 L290.8,298.9 L296.1,304.8 L301.3,306.2 L306.6,305.5 L311.8,307.8 L317.0,321.5 L322.3,331.7 L327.5,331.6 L332.8,320.1 L338.0,301.9 L343.3,288.5 L348.5,283.9 L353.8,293.5 L359.0,307.1 L364.3,318.4 L369.5,318.7 L374.7,314.0 L380.0,310.4 L385.2,309.1 L390.5,312.3 L395.7,320.0 L401.0,324.7 L406.2,326.5 L411.5,327.5 L416.7,332.2 L422.0,341.5 L427.2,349.0 L432.4,347.8 L437.7,338.2 L442.9,335.4 L448.2,342.3 L453.4,347.9 L458.7,350.6 L463.9,350.7 L469.2,350.7 L474.4,353.8 L479.7,355.5 L484.9,341.5 L484.9,427.5 L479.7,405.5 L474.4,398.8 L469.2,395.7 L463.9,395.7 L458.7,395.6 L453.4,392.9 L448.2,387.3 L442.9,380.4 L437.7,383.2 L432.4,392.8 L427.2,394.0 L422.0,386.5 L416.7,377.2 L411.5,372.5 L406.2,371.5 L401.0,369.7 L395.7,365.0 L390.5,357.3 L385.2,354.1 L380.0,355.4 L374.7,359.0 L369.5,363.7 L364.3,363.4 L359.0,352.1 L353.8,338.5 L348.5,328.9 L343.3,333.5 L338.0,346.9 L332.8,365.1 L327.5,376.6 L322.3,376.7 L317.0,366.5 L311.8,352.8 L306.6,350.5 L301.3,351.2 L296.1,349.8 L290.8,343.9 L285.6,338.0 L280.3,336.9 L275.1,343.4 L269.8,351.2 L264.6,348.0 L259.3,337.4 L254.1,331.9 L248.8,334.3 L243.6,337.5 L238.4,338.5 L233.1,336.9 L227.9,337.5 L222.6,341.9 L217.4,351.9 L212.1,367.1 L206.9,380.1 L201.6,378.1 L196.4,373.5 L191.1,368.0 L185.9,368.4 L180.7,370.9 L175.4,372.9 L170.2,377.3 L164.9,383.2 L159.7,386.7 L154.4,387.9 L149.2,393.7 L143.9,389.2 L138.7,383.0 L133.4,374.5 L128.2,367.8 L123.0,379.0 L117.7,393.0 L112.5,402.4 L107.2,403.1 L102.0,395.1 L96.7,384.8 L91.5,373.3 L86.2,367.4 L81.0,372.6 L75.7,389.3 L70.5,437.5Z" fill="#999" fill-opacity="0.4"/>
<path d="M70.5,391.5 L75.7,365.8 L81.0,350.1 L86.2,344.9 L91.5,350.8 L96.7,362.3 L102.0,372.6 L107.2,380.6 L112.5,379.9 L117.7,370.5 L123.0,356.5 L128.2,345.3 L133.4,352.0 L138.7,360.5 L143.9,366.7 L149.2,371.2 L154.4,365.4 L159.7,364.2 L164.9,360.7 L170.2,354.8 L175.4,350.4 L180.7,348.4 L185.9,345.9 L191.1,345.5 L196.4,351.0 L201.6,355.6 L206.9,357.6 L212.1,344.6 L217.4,329.4 L222.6,319.4 L227.9,315.0 L233.1,314.4 L238.4,316.0 L243.6,315.0 L248.8,311.8 L254.1,309.4 L259.3,314.9 L264.6,325.5 L269.8,328.7 L275.1,320.9 L280.3,314.4 L285.6,315.5 L290.8,321.4 L296.1,327.3 L301.3,328.7 L306.6,328.0 L311.8,330.3 L317.0,344.0 L322.3,354.2 L327.5,354.1 L332.8,342.6 L338.0,324.4 L343.3,311.0 L348.5,306.4 L353.8,316.0 L359.0,329.6 L364.3,340.9 L369.5,341.2 L374.7,336.5 L380.0,332.9 L385.2,331.6 L390.5,334.8 L395.7,342.5 L401.0,347.2 L406.2,349.0 L411.5,350.0 L416.7,354.7 L422.0,364.0 L427.2,371.5 L432.4,370.3 L437.7,360.7 L442.9,357.9 L448.2,364.8 L453.4,370.4 L458.7,373.1 L463.9,373.2 L469.2,373.2 L474.4,376.3 L479.7,380.5 L484.9,384.5" fill="none" stroke="#00BFC4" stroke-width="3.56" stroke-linejoin="round"/>
<line x1="49.7" x2="506.6" y1="193.0" y2="193.0" stroke="#F8766D" stroke-width="2.67" stroke-dasharray="10.68 10.68"/>
<line x1="49.7" x2="506.6" y1="346.1" y2="346.1" stroke="#00BFC4" stroke-width="2.67" stroke-dasharray="10.68 10.68"/>
<line x1="49.6" x2="49.6" y1="1.3" y2="458.5" stroke="#303030" stroke-width="2.3"/>
<line x1="48.5" x2="506.6" y1="457.4" y2="457.4" stroke="#303030" stroke-width="2.3"/>
<line x1="44.2" x2="48.800000000000004" y1="390.6" y2="390.6" stroke="#333" stroke-width="1.78"/>
<text class="tk" x="40.7" y="397.1" text-anchor="end">25</text>
<line x1="44.2" x2="48.800000000000004" y1="246.6" y2="246.6" stroke="#333" stroke-width="1.78"/>
<text class="tk" x="40.7" y="253.1" text-anchor="end">50</text>
<line x1="44.2" x2="48.800000000000004" y1="102.6" y2="102.6" stroke="#333" stroke-width="1.78"/>
<text class="tk" x="40.7" y="109.1" text-anchor="end">75</text>
<line x1="70.5" x2="70.5" y1="458.29999999999995" y2="462.9" stroke="#333" stroke-width="1.78"/>
<text class="tk" x="70.5" y="477.7" text-anchor="middle">Jan</text>
<line x1="105.8" x2="105.8" y1="458.29999999999995" y2="462.9" stroke="#333" stroke-width="1.78"/>
<text class="tk" x="105.8" y="477.7" text-anchor="middle">Feb</text>
<line x1="137.6" x2="137.6" y1="458.29999999999995" y2="462.9" stroke="#333" stroke-width="1.78"/>
<text class="tk" x="137.6" y="477.7" text-anchor="middle">Mar</text>
<line x1="172.9" x2="172.9" y1="458.29999999999995" y2="462.9" stroke="#333" stroke-width="1.78"/>
<text class="tk" x="172.9" y="477.7" text-anchor="middle">Apr</text>
<line x1="207.1" x2="207.1" y1="458.29999999999995" y2="462.9" stroke="#333" stroke-width="1.78"/>
<text class="tk" x="207.1" y="477.7" text-anchor="middle">May</text>
<line x1="242.3" x2="242.3" y1="458.29999999999995" y2="462.9" stroke="#333" stroke-width="1.78"/>
<text class="tk" x="242.3" y="477.7" text-anchor="middle">Jun</text>
<line x1="276.5" x2="276.5" y1="458.29999999999995" y2="462.9" stroke="#333" stroke-width="1.78"/>
<text class="tk" x="276.5" y="477.7" text-anchor="middle">Jul</text>
<line x1="311.8" x2="311.8" y1="458.29999999999995" y2="462.9" stroke="#333" stroke-width="1.78"/>
<text class="tk" x="311.8" y="477.7" text-anchor="middle">Aug</text>
<line x1="347.0" x2="347.0" y1="458.29999999999995" y2="462.9" stroke="#333" stroke-width="1.78"/>
<text class="tk" x="347.0" y="477.7" text-anchor="middle">Sep</text>
<line x1="381.2" x2="381.2" y1="458.29999999999995" y2="462.9" stroke="#333" stroke-width="1.78"/>
<text class="tk" x="381.2" y="477.7" text-anchor="middle">Oct</text>
<line x1="416.5" x2="416.5" y1="458.29999999999995" y2="462.9" stroke="#333" stroke-width="1.78"/>
<text class="tk" x="416.5" y="477.7" text-anchor="middle">Nov</text>
<line x1="450.6" x2="450.6" y1="458.29999999999995" y2="462.9" stroke="#333" stroke-width="1.78"/>
<text class="tk" x="450.6" y="477.7" text-anchor="middle">Dec</text>
<line x1="485.9" x2="485.9" y1="458.29999999999995" y2="462.9" stroke="#333" stroke-width="1.78"/>
<text class="tk" x="485.9" y="477.7" text-anchor="middle">Jan</text>
<text class="ti" style="font-size:19.3px" x="278" y="500.6" text-anchor="middle">Month</text>
<text class="ti" style="font-size:19.7px" transform="translate(14.8,229.3) rotate(-90)" text-anchor="middle">Daily number of suicides</text>
<text class="ti" style="font-size:19.55px" x="535.4" y="202.2">Patient Group</text>
<rect x="536.1" y="212.9" width="30.9" height="61.2" fill="#999" fill-opacity="0.4"/>
<line x1="538.9" x2="563.5" y1="228.2" y2="228.2" stroke="#F8766D" stroke-width="3.56"/>
<line x1="538.9" x2="563.5" y1="258.8" y2="258.8" stroke="#00BFC4" stroke-width="3.56"/>
<text class="lg" x="576.1" y="233.9">All patients</text>
<text class="lg" x="576.1" y="264.5">Severe patients</text>
</g></svg></body></html>
